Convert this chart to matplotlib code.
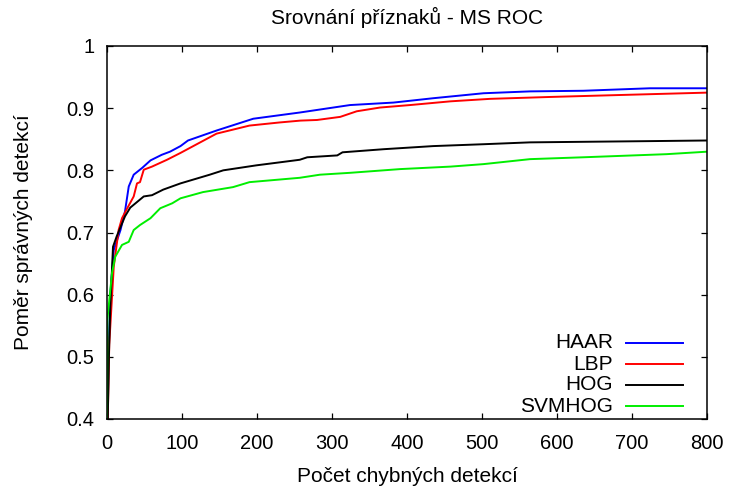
import matplotlib
matplotlib.use("Agg")
import matplotlib.pyplot as plt
from matplotlib.ticker import FuncFormatter, MultipleLocator

plt.rcParams['font.family'] = ['Liberation Sans', 'DejaVu Sans']

title = "Srovnání příznaků - MS ROC"
xlabel = "Počet chybných detekcí"
ylabel = "Poměr správných detekcí"

names = ["HAAR", "LBP", "HOG", "SVMHOG"]
colors = ["#0000ff", "#ff0000", "#000000", "#00ee00"]

haar_x = [1, 2, 4.4, 9, 18, 24, 29, 35.6, 47, 58, 73, 84, 98, 108, 146, 195, 257, 324, 382, 435, 502, 564, 635, 724, 800]
haar_y = [0.40, 0.50, 0.60, 0.672, 0.704, 0.734, 0.774, 0.793, 0.804, 0.816, 0.825, 0.830, 0.839, 0.848, 0.864, 0.883, 0.893, 0.905, 0.909, 0.916, 0.924, 0.927, 0.928, 0.932, 0.932]

lbp_x = [1, 3, 9, 15.5, 20, 27, 35.6, 40, 44, 49, 60, 80, 98, 146, 190, 230, 258, 280, 311, 333, 364, 404, 458, 511, 564, 590, 679, 800]
lbp_y = [0.40, 0.52, 0.645, 0.704, 0.723, 0.739, 0.758, 0.779, 0.781, 0.801, 0.806, 0.817, 0.828, 0.859, 0.872, 0.877, 0.880, 0.881, 0.886, 0.895, 0.901, 0.905, 0.911, 0.915, 0.917, 0.918, 0.921, 0.925]

hog_x = [1, 2.5, 4.4, 8, 13, 24, 31, 49, 60, 75, 98, 137, 155, 199, 257, 267, 307, 314, 369, 435, 502, 564, 644, 724, 800]
hog_y = [0.40, 0.50, 0.581, 0.677, 0.694, 0.726, 0.740, 0.758, 0.760, 0.769, 0.779, 0.793, 0.800, 0.808, 0.817, 0.821, 0.824, 0.829, 0.834, 0.839, 0.842, 0.845, 0.846, 0.847, 0.848]

svmhog_x = [0, 0.5, 6.7, 11, 20, 29, 35.6, 44, 58, 71, 87, 98, 128, 168, 190, 257, 284, 324, 391, 458, 502, 564, 635, 746, 800]
svmhog_y = [0.40, 0.56, 0.635, 0.661, 0.680, 0.685, 0.704, 0.712, 0.723, 0.739, 0.747, 0.755, 0.765, 0.773, 0.781, 0.788, 0.793, 0.796, 0.802, 0.806, 0.810, 0.818, 0.821, 0.826, 0.830]

series_x = [haar_x, lbp_x, hog_x, svmhog_x]
series_y = [haar_y, lbp_y, hog_y, svmhog_y]

fig = plt.figure(figsize=(7.31, 4.91), dpi=100)
ax = fig.add_axes([107 / 731, 1 - 419 / 491, 600 / 731, 373 / 491])

for xs, ys, c in zip(series_x, series_y, colors):
    ax.plot(xs, ys, color=c, lw=1.4, clip_on=True)

ax.set_xlim(0, 800)
ax.set_ylim(0.4, 1.0)
ax.xaxis.set_major_locator(MultipleLocator(100))
ax.yaxis.set_major_locator(MultipleLocator(0.1))
ax.yaxis.set_major_formatter(FuncFormatter(lambda v, p: f"{v:.1f}".rstrip('0').rstrip('.') if v != 1 else "1"))
ax.tick_params(direction='in', length=4, width=0.9, top=True, right=True,
               labelsize=14.5, pad=9)
ax.tick_params(axis='x', pad=11)
for s in ax.spines.values():
    s.set_linewidth(1.1)

ax.set_title(title, fontsize=15, pad=16)
ax.set_xlabel(xlabel, fontsize=15, labelpad=10)
ax.set_ylabel(ylabel, fontsize=15, labelpad=24)

# gnuplot-style key: right-aligned text followed by line sample
tr = ax.transAxes
x_text = (613 - 107) / 600
x_l0 = (626 - 107) / 600
x_l1 = (683 - 107) / 600
row_px = [343, 364, 385, 406]
for name, c, py in zip(names, colors, row_px):
    yy = (419 - py) / 373
    ax.text(x_text, yy, name, transform=tr, ha='right', va='center', fontsize=15)
    ax.plot([x_l0, x_l1], [yy, yy], transform=tr, color=c, lw=1.4)

fig.savefig("out.png", dpi=100)
